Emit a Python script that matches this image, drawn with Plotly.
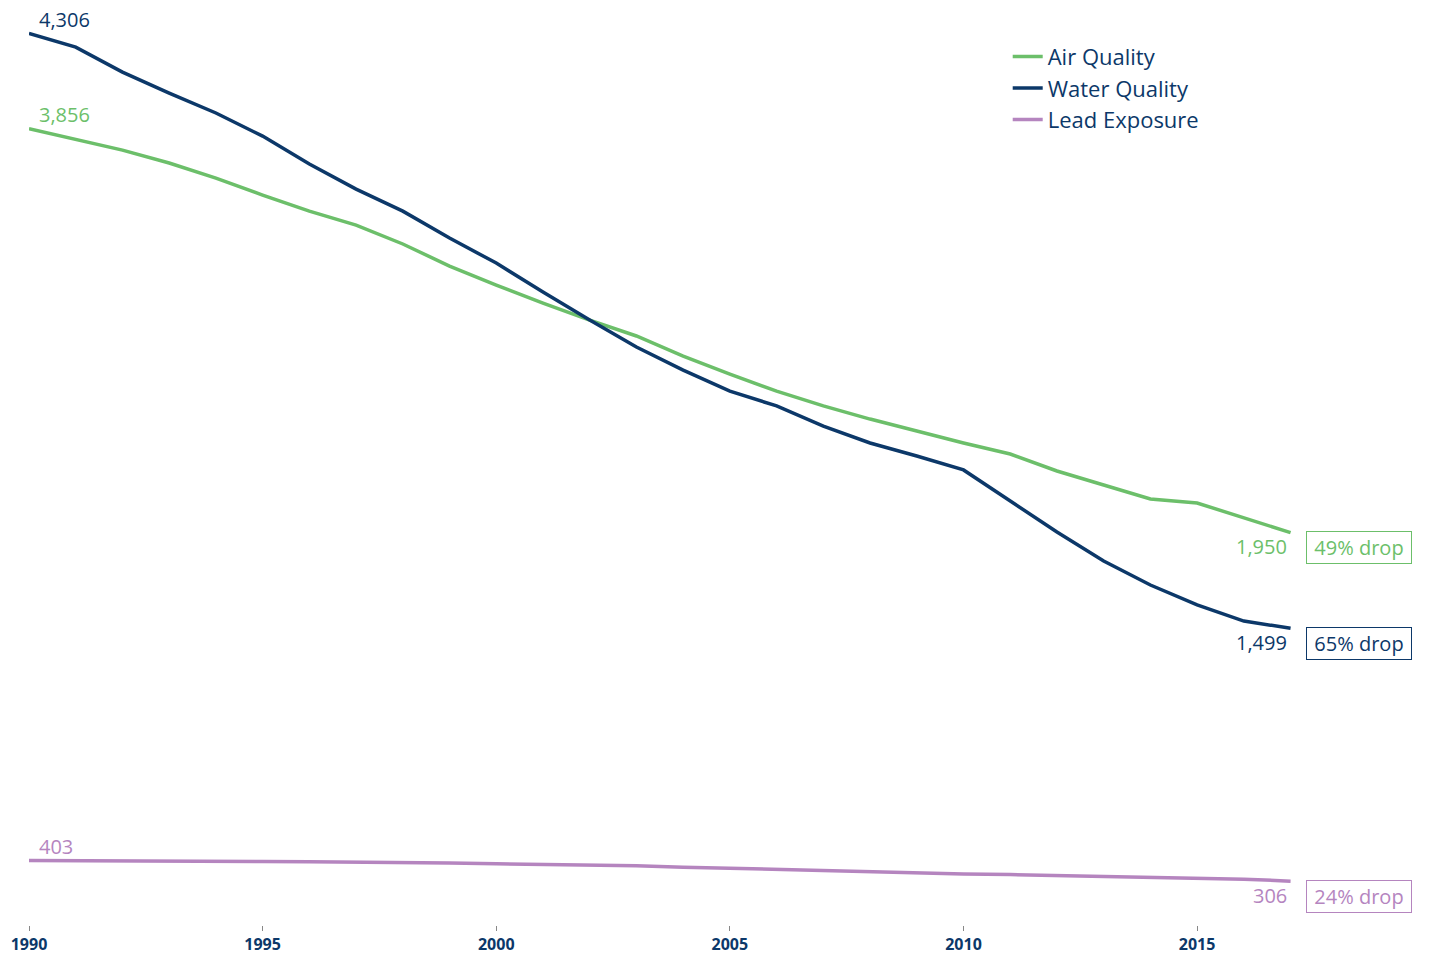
import plotly.graph_objects as go

# Yearly values per program
years = list(range(1990, 2018))

air_quality = [3856, 3807, 3755, 3694, 3623, 3543, 3467, 3401, 3312, 3208,
               3118, 3033, 2953, 2878, 2783, 2698, 2618, 2548, 2486, 2430,
               2373, 2321, 2241, 2175, 2109, 2090, 2019, 1950]

water_quality = [4306, 4241, 4123, 4024, 3930, 3821, 3689, 3571, 3467, 3340,
                 3222, 3085, 2953, 2826, 2717, 2618, 2548, 2453, 2373, 2312,
                 2246, 2099, 1953, 1816, 1703, 1609, 1533, 1499]

lead_exposure = [403, 403, 402, 401, 400, 399, 397, 396, 394, 391,
                 388, 385, 383, 379, 372, 366, 360, 354, 350, 345,
                 340, 337, 333, 328, 324, 319, 315, 306]

series_names = ["Air Quality", "Water Quality", "Lead Exposure"]
series_values = [air_quality, water_quality, lead_exposure]
series_colors = ["#6CBF6A", "#0C3869", "#B585BF"]
drop_labels = ["49% drop", "65% drop", "24% drop"]

tick_years = [1990, 1995, 2000, 2005, 2010, 2015]

FONT = "Open Sans"
NAVY = "#0C3869"

fig = go.Figure()

for name, vals, color in zip(series_names, series_values, series_colors):
    fig.add_trace(go.Scatter(
        x=years, y=vals, mode="lines", name=name,
        line=dict(color=color, width=3.5),
        hoverinfo="skip",
    ))

annotations = []
for vals, color, drop in zip(series_values, series_colors, drop_labels):
    # starting value above the first point
    annotations.append(dict(
        x=years[0], y=vals[0], xref="x", yref="y",
        text=f"{vals[0]:,}", showarrow=False,
        xanchor="left", yanchor="middle", xshift=8, yshift=14,
        font=dict(family=FONT, size=20, color=color),
    ))
    # ending value below the last point
    annotations.append(dict(
        x=years[-1], y=vals[-1], xref="x", yref="y",
        text=f"{vals[-1]:,}", showarrow=False,
        xanchor="right", yanchor="middle", xshift=-2, yshift=-14,
        font=dict(family=FONT, size=20, color=color),
    ))
    # boxed percentage drop
    annotations.append(dict(
        x=years[-1], y=vals[-1], xref="x", yref="y",
        text=drop, showarrow=False, width=100, align="center",
        xanchor="left", yanchor="middle", xshift=15, yshift=-15,
        font=dict(family=FONT, size=20, color=color),
        bordercolor=color, borderwidth=1, borderpad=2,
        bgcolor="white",
    ))

fig.update_layout(
    width=1430, height=957,
    margin=dict(l=29, r=10, t=10, b=32),
    paper_bgcolor="white", plot_bgcolor="white",
    showlegend=True,
    legend=dict(
        x=0.7036, y=0.972, xanchor="left", yanchor="top",
        font=dict(family=FONT, size=22, color=NAVY),
        bgcolor="rgba(0,0,0,0)", itemwidth=30,
    ),
    annotations=annotations,
    xaxis=dict(
        range=[1990, 2019.77],
        tickmode="array", tickvals=tick_years,
        ticktext=[str(t) for t in tick_years],
        ticks="outside", ticklen=5, tickwidth=1, tickcolor="#888888",
        showgrid=False, zeroline=False, showline=False, automargin=False,
        tickfont=dict(family=FONT, size=16, color=NAVY, weight="bold"),
    ),
    yaxis=dict(
        range=[99, 4416],
        visible=False, showgrid=False, zeroline=False, automargin=False,
    ),
)

fig.write_html("out.html")
